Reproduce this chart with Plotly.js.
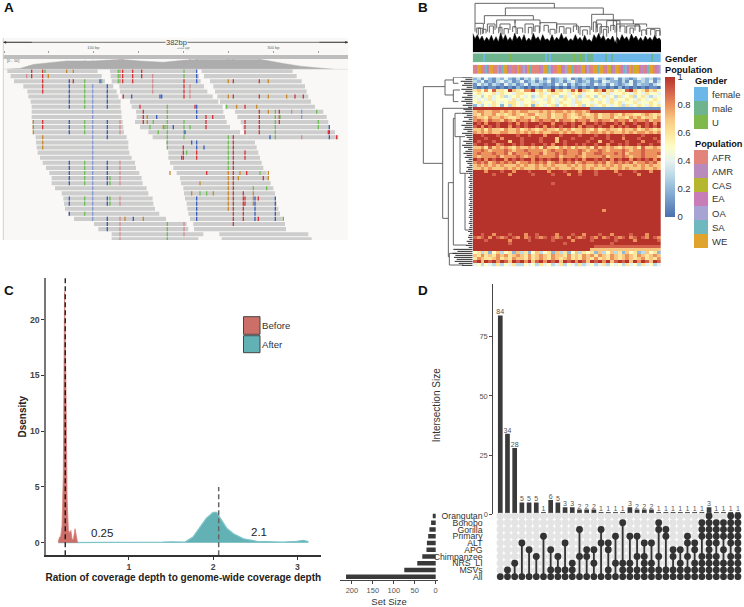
<!DOCTYPE html>
<html><head><meta charset="utf-8">
<script src="https://cdn.plot.ly/plotly-3.0.1.min.js"></script>
<style>html,body{margin:0;padding:0;background:#fff}</style></head>
<body><div id="chart" style="width:744px;height:607px"></div>
<script>
// ---------- Panel A: read pile-up (track units along x, row number along y)
const leftStart =[22,32,42,70,82,85,92,95,95,95,97,97,100,107,108,110,113,120,128,138,148,155,155,165,185,190,192,195,205,222,282,295,335,335];
const leftEnd   =[293,305,315,340,350,355,362,362,364,365,368,370,372,380,385,385,388,395,405,408,418,425,428,440,445,458,460,465,478,498,560,565,610,595];
const midStart  =[330,332,335,358,360,365,390,395,408,410,405,420,445,458,498,503,505,505,510,520,530,540,543,550,552,555,560,562,565,570,580,582];
const midEnd    =[590,597,602,612,622,638,655,668,670,675,680,690,720,740,765,770,775,780,785,790,800,805,812,820,825,825,830,835,840,848,855,858];
const rightRow  =[0,1,2,3,4,5,6,7,8,9,10,11,12,13,32,33];
const rightStart=[605,612,630,640,645,652,660,675,705,712,722,728,732,740,658,665];
const rightEnd  =[878,890,905,915,920,925,933,945,970,980,985,990,1005,1015,925,935];
// each call: position + base, then the rows that carry it
const snpCalls=['208C 2-7 10-12 18-22 25-26 28','128T 0-4 10-11','128G 13-15','100G 10-12','254A 2-7 10-12 18-22 25-26 28','278c 3-29','322C 3-7 10-13 18-22 25-26 29-31','330A 21-22 25-26','360t 0-2 10-12 18-22 25-26 29-33','355A 0-2','368T 0-2','398T 0-2','425T 0-1','502A 7-15 30-33','458t 1-4','552T 2-5','552A 0-1 10-13','570t 3-5','590C 0-2 7-9 14-15 25-29','685G 2 5 20-27','685A 13-19','700T 2 5 13-30','778T 2 5 8-12','805G 2 5 8 20-21','826A 8-13','838T 8-10','905c 8-9','955A 10-11','988C 11-13','735T 7 10-12 16-17 25-26','430T 8-10','442G 9-10','470C 9','618T 9-11','638T 9','550T 15-17','590T 16-17','575C 14','612C 15','760G 24-26','765C 25-29','775T 25 29','826C 25-29','730T 24-29','552t 30-32',
'80t 1','95T 0-1','145G 1','220T 2','220G 0','300C 2','305A 2','135A 0','200G 0','460A 10','490G 11','520C 11','555C 12','585T 7','480C 5','370T 5','395C 5','485C 5','420T 7','495A 11','450A 11','475A 12','570A 11','510G 20','600G 22','620T 20','545T 17','560A 16','720G 20','740T 20','790T 21','780A 20','715G 21','640G 24','600A 24','575G 24','620A 24','760A 23','800A 23','850A 29','400C 29','375G 29','430G 29','910T 5','860G 5','885T 5','680A 7','710G 7','840A 9','875t 8','950A 8','985T 12','1010T 13','905t 13','810C 13','770G 7'];
const snpColors={A:'#6cbf55',C:'#3a5fbf',G:'#c98a2c',T:'#d8333a',c:'#8698d4',t:'#d58b90'};
const covX=[20,60,100,130,165,200,240,280,330,360,420,490,550,600,680,780,850,900,950,1000];
const covY=[0,.08,.48,.58,.66,.83,.83,.83,.93,1,.83,.69,.9,1,1,1,.58,.31,.14,0];
const covSnpPos=[208,254,278,322,330,360,368,408,458,552,570,590,615,685,700,778,805,840,955];
const covSnpBase=['C','C','C','G','G','T','T','G','G','A','T','C','A','T','T','T','G','A','T'];
const covSnpH=[.8,.85,.85,.9,.9,1,1,.8,.7,.9,1,1,.95,1,1,1,.8,.55,.12];
const rulerTicks=[12,145,280,415,550,685,820,955];
const rulerText=['','','100 bp','','200 bp','','300 bp',''];

// ---------- Panel B: methylation heatmap (digit = value x 10, a = 1)
const heatRows=[
'231421324213132424131232412132142312413212432312','324121342312412313241231342123121432213141232413','142313214231241332121424131232142314212341322134',
'101011010102101010110101021010101101020101010110','675859665a76588a6757a675696a76587a675659a7568675','564556465546655456456655465645556464556546546554',
'453564563456545346564536456346535645364563564345','545464555464655455465456546455654546455654654565','564556545665455645565465546655456546564556455654',
'243546525365465265456356545635645654563645654656','aaaaaaaaaaaaaaaaaaaaaaaaaaaaaa111111111111111111','788778878787887778787887878878aaaaaaaaaaaaaaaaaa',
'768778676787678867786778767876786778768776678767','877687787667877687786778766787786778677687867768','898798879879889789889798879889789887988979889788',
'a9a8aa9aa9a8a9aaa9aa8aa9a9aa8aa9a9aa9a8aa9aa9a8a','9a8a9a9aa8a9a9aa9a8a9a9aa9a8a99a9aa8a9a9aa8a9a9a','778687768778678767877687867787686787768778678767',
'878787788778787878778878787787887878778787887878','aa9aaa9aaaa9aa9aaa8aaa9aaaa9aaa9aa9aaa9aaaa9aaaa','aaa9aaa8aaaa9aaaa9aaa7aaa9aaaa9aaa9aaa8aaa9aaa9a','a9aaa9aaa7aa9aaaa9aaa7a9aaaaa9aa7aa9aaa9aaa8aaa9',
'9aa9aa89aa9a9aa9aa9a8aa9aa9a9aa9aa8aa9a9aa9aa9aa','778697878768778786977687868778697878768778697787','889878889878898888789889888987889878889878898888',
'898889889798889889788989888978899888989788898889','878888978889878898888978889878888978889878898887','a9a8a9aa8a9a9aa8a9a9aa8a9a9a8aa9a9a8a9aa8a9a9a8a',
'898978989897889898978989897898898978989897889897','787878787778787787878777878787787878787778787877','778787778787877787787877787787877787787877787787',
'aaa8aaa9aa8aaa9aaaa8aaa9aaa8aaa9aaaa8aaaa9aaa8aa','aaaaa9aaa8aaaaa9aaaa9aaa8aa9aaa9aaaaa9aaaa8aaaaa',
'a','a','aaaaaaaaaaaaaaaaaaaa9aaaaaaaaaaaaaaaaaaaaaaaaaaa','a','a','a','a','a','a','a','a','aaaaaaaaaaaaaaaaaaaaaaaaaaaaaaaaa8aaaaaaaaaaaaaa','a','a','a','a','a','a','a',
'aa9aa8aaa9aaa8aa9aaaa8aaa9aa8aaa9aa8aaaa9aaa8aaa','989a8a989a98a89a989a989a8a989a98a89a989a89a98a98','aaa9aaaaa8aaaa9aaaaa9aaaa8aaaa9aaaaa9aaaa8aaaaa9',
'aaaaaaaaa9aaaaaaaaaaaaa9aaaaaaaaaaa9aaaaaaaaaaaa','aaaaaaaaaaaaaaaaaaaaaaaaaaaaaaa999999999999999999','aaaaaaaaaaaaaaaaaaaaaaaaaaaaaa777777777777777777',
'563625735627362573562736257365627357362756237562','768676878678768678768776867687868768767876876787','687667867687768678768767867687686768767876786768',
'9a7a9a8a97a9a8a79a8a9a7a9a8a97a9a8a79a9a7a8a97a9','453543635463354536453463543634534635453645364534'];
const colorStops=[[0,'#4a6fae'],[.1,'#6c93c4'],[.2,'#91b8d8'],[.3,'#bddae7'],[.4,'#e6f2ee'],[.5,'#fdfdc6'],[.6,'#fde69b'],[.7,'#f8c680'],[.8,'#ec925c'],[.9,'#d3604a'],[1,'#b5332a']];
const genderStrip='mmmmmfmmmmmmmmmmmmUmmmmmmmmmmmmmmmmmfmfmmmmmmmmmmmUmmUmmfmmmffffffmffmfffffffffffffffffffmffff';
const populationStrip='AEWWAMSEWWAAOESWWEMAAEWAMOEWSAAAAEMWWSOEAAWWEMOWWSAEAMWWEOAAWWSWWAEWCEMWWAESOEWACWWEMAESWWAEMO';
const genderKeys=['f','m','U'];
const genderNames=['female','male','U'];
const genderColors=['#6bb8e8','#6eb48f','#7fb94c'];
const popKeys=['A','M','C','E','O','S','W'];
const popNames=['AFR','AMR','CAS','EA','OA','SA','WE'];
const popColors=['#e2847c','#b98bbc','#b5b82e','#c97db8','#a7a3d2','#6fb8c0','#e0a32c'];
// dendrograms: each link = left, right, top height, left-drop, right-drop
const topLeft =[225,316,253,575,225,290,345,590,650,620,300,375,420,470,540,600,680,740,235,262,640,230,248,268,296,312,338,352,385,405,432,450,478,498,520,548,580,592,610,632,660,690,705,725,752,768];
const topRight=[463,610,400,640,250,345,420,700,740,660,330,400,470,530,570,625,720,780,250,285,650,242,258,280,306,325,348,368,396,418,445,465,492,512,535,562,588,604,620,645,675,700,718,738,765,780];
const topTop  =[10,24,47,43,70,60,60,60,72,62,72,72,68,72,80,80,78,85,85,72,62,84,88,78,82,86,80,84,82,78,76,88,80,84,78,90,66,72,88,76,78,84,74,90,88,92];
const topDropL=[70,47,72,90,95,85,85,85,95,85,95,100,95,100,105,105,100,105,105,95,90,100,102,98,100,104,96,102,100,96,94,104,98,102,96,108,96,96,106,94,96,102,92,108,106,110];
const topDropR=[24,43,60,60,85,70,72,72,80,85,90,95,85,90,105,100,95,105,100,90,130,104,100,102,104,100,102,98,104,100,98,102,102,100,100,104,98,100,110,98,100,100,96,104,110,108];
const jagX=[218,225,232,239,246,253,260,267,274,281,288,295,302,309,316,323,330,337,344,351,358,365,372,379,386,393,400,407,414,421,428,435,442,449,456,463,470,477,484,491,498,505,512,519,526,533,540,547,554,561,568,575,582,589,596,603,610,617,624,631,638,645,652,659,666,673,680,687,694,701,708,715,722,729,736,743,750,757,764,771,778,783];
const jagY=[100,116,104,120,108,124,112,122,106,124,110,126,98,120,104,122,112,124,100,118,108,122,104,124,114,122,100,118,110,124,104,120,116,124,104,122,112,120,100,118,110,124,116,122,104,120,112,124,106,122,118,126,104,116,100,118,106,122,114,120,108,128,112,122,104,118,110,124,102,116,108,122,112,124,108,120,112,122,106,118,114,122];
const sideRoot=[70,135,160,160,128,145,160,165,180,195,148];
const sideYTop=[260,240,232,270,325,548,355,340,410,520,760];
const sideYBot=[490,285,250,305,655,770,735,410,520,690,795];
const sideXTop=[135,160,190,180,215,160,165,185,195,205,170];
const sideXBot=[128,160,175,175,145,148,200,180,195,205,190];
// comb of leaves along the heatmap: where each leaf starts, every 6 track units from the top
const combStart=[188,196,182,192,186,200,184,196,190,202,186,194,184,198,188,204,190,196,186,200,192,206,188,198,184,194,190,202,186,196,200,206,190,198,186,192,204,196,190,200,194,206,198,202,208,200,204,198,206,210,204,208,206,210,208,206,210,208,206,210,208,206,210,208,206,210,208,206,210,208,206,210,208,206,210,208,206,204,210,206,204,208,200,204,198,206,160,172,158,166,162,170,164,176,186];

// ---------- Panel C: density curves
const beforeX=[.16,.175,.19,.205,.22,.235,.25,.265,.28,.30,.31,.325,.34,.36,.375,.39];
const beforeY=[.1,.5,.6,1.5,6,22.5,15,4,1.1,.9,1.1,.3,.3,1.25,.6,0];
const afterX=[.16,.5,1,1.3,1.4,1.5,1.6,1.665,1.76,1.84,1.92,2,2.04,2.1,2.16,2.24,2.36,2.52,2.63,2.83,2.99,3.07,3.13];
const afterY=[0,0,0,.02,.05,.08,.04,.05,.5,1.3,2.2,2.72,2.72,2,1.3,.8,.35,.12,.1,.05,.12,.2,.1];
const meanLines=[.243,2.065];

// ---------- Panel D: UpSet plot
const intersectionSizes=[84,34,28,5,5,5,1,6,5,3,3,2,2,2,1,1,1,1,3,2,2,2,1,1,1,1,1,1,1,3,1,1,1,1];
const setNames=['Orangutan','Bonobo','Gorilla','Primary','ALT','APG','Chimpanzee','NRS_LI','MSVs','All'];
const setSizes=[7,11,15,18,21,22,32,44,75,214];
const memberships=['9','89','79','49','59','69','39','589','689','489','789','269','569','579','249','4589','379','1789','3789','3689','46789','4789','12689','2389','5689','5789','34689','45789','1236789','0123456789','12346789','1235789','012346789','0123456789'];

// ---------- helpers
const W=744,H=607,FONT='"Liberation Sans",Arial,sans-serif';
const dx=(a,b)=>[a/W,b/W], dy=(t,b)=>[1-b/H,1-t/H];
const hidden=(o)=>Object.assign({visible:false,fixedrange:true},o);
const ann=(x,y,text,o={})=>Object.assign({xref:'paper',yref:'paper',x:x/W,y:1-y/H,text,showarrow:false,xanchor:'left',yanchor:'middle',font:{family:FONT,size:9.5,color:'#222'}},o);
const rect=(x0,y0,x1,y1,fill,line)=>({type:'rect',xref:'paper',yref:'paper',x0:x0/W,x1:x1/W,y0:1-y0/H,y1:1-y1/H,fillcolor:fill,line:line||{width:0},layer:'below'});
const seg=(x0,y0,x1,y1,color,w)=>({type:'line',xref:'paper',yref:'paper',x0:x0/W,x1:x1/W,y0:1-y0/H,y1:1-y1/H,line:{color,width:w||1}});
const traces=[];

// ---------- A traces
const rRow=[],rBase=[],rLen=[];
leftStart.forEach((s,i)=>{rRow.push(i);rBase.push(s);rLen.push(leftEnd[i]-s);});
midStart.forEach((s,i)=>{rRow.push(i);rBase.push(s);rLen.push(midEnd[i]-s);});
rightStart.forEach((s,i)=>{rRow.push(rightRow[i]);rBase.push(s);rLen.push(rightEnd[i]-s);});
traces.push({type:'bar',orientation:'h',y:rRow,x:rLen,base:rBase,width:.8,marker:{color:'#cdcdcd',line:{width:0}},xaxis:'x',yaxis:'y',hoverinfo:'skip'});
const sRow=[],sPos=[],sCol=[];
snpCalls.forEach(call=>{
  const parts=call.split(' '),pos=parseFloat(parts[0]),base=parts[0].slice(-1);
  parts.slice(1).forEach(run=>{
    const p=run.split('-').map(Number),a=p[0],b=p.length>1?p[1]:p[0];
    for(let r=a;r<=b;r++){sRow.push(r);sPos.push(pos-2);sCol.push(snpColors[base]);}
  });
});
traces.push({type:'bar',orientation:'h',y:sRow,x:sRow.map(()=>4),base:sPos,width:.8,marker:{color:sCol,line:{width:0}},xaxis:'x',yaxis:'y',hoverinfo:'skip'});
traces.push({type:'scatter',mode:'lines',x:covX,y:covY,fill:'tozeroy',fillcolor:'#adadad',line:{color:'#aaa',width:.5},xaxis:'x',yaxis:'y2',hoverinfo:'skip'});
traces.push({type:'bar',x:covSnpPos,y:covSnpH,width:3.6,marker:{color:covSnpBase.map(b=>snpColors[b]),line:{width:0}},xaxis:'x',yaxis:'y2',hoverinfo:'skip'});

// ---------- B traces
const nCols=48;
const heatZ=heatRows.map(r=>{
  const full=r.length===1?r.repeat(nCols):r;
  return Array.from({length:nCols},(_,j)=>{const c=full[Math.min(j,full.length-1)];return c==='a'?1:Number(c)/10;});
});
traces.push({type:'heatmap',z:heatZ,zmin:0,zmax:1,colorscale:colorStops,xaxis:'x3',yaxis:'y3',hoverinfo:'skip',
  colorbar:{x:665/W,xanchor:'left',xpad:0,y:1-77/H,yanchor:'top',ypad:0,len:140/H,lenmode:'fraction',thickness:10,thicknessmode:'pixels',outlinewidth:0,ticks:'',tickvals:[0,.2,.4,.6,.8,1],ticktext:['0','0.2','0.4','0.6','0.8','1'],tickfont:{family:FONT,size:9.5,color:'#333'}}});
// top dendrogram
traces.push({type:'scatter',mode:'lines',x:jagX.concat([783,218]),y:jagY.concat([157,157]),fill:'toself',fillcolor:'#000',line:{color:'#000',width:.5},xaxis:'x4',yaxis:'y4',hoverinfo:'skip'});
const tx=[],ty=[];
topLeft.forEach((l,i)=>{tx.push(l,l,topRight[i],topRight[i],null);ty.push(topDropL[i],topTop[i],topTop[i],topDropR[i],null);});
traces.push({type:'scatter',mode:'lines',x:tx,y:ty,line:{color:'#555',width:.9},xaxis:'x4',yaxis:'y4',hoverinfo:'skip'});
// side dendrogram
const lx=[],ly=[];
sideRoot.forEach((r,i)=>{lx.push(sideXTop[i],r,r,sideXBot[i],null);ly.push(sideYTop[i],sideYTop[i],sideYBot[i],sideYBot[i],null);});
traces.push({type:'scatter',mode:'lines',x:lx,y:ly,line:{color:'#555',width:.9},xaxis:'x5',yaxis:'y5',hoverinfo:'skip'});
const mx=[],my=[];
combStart.forEach((s,i)=>{mx.push(s,218,null);my.push(232+6*i,232+6*i,null);});
traces.push({type:'scatter',mode:'lines',x:mx,y:my,line:{color:'#2a2a2a',width:1},xaxis:'x5',yaxis:'y5',hoverinfo:'skip'});
const stepped=(cols)=>{const n=cols.length,o=[];cols.forEach((c,i)=>{o.push([i/n,c],[(i+1)/n,c]);});return o;};
traces.push({type:'heatmap',z:[Array.from(genderStrip).map(c=>genderKeys.indexOf(c))],zmin:-.5,zmax:2.5,colorscale:stepped(genderColors),showscale:false,xaxis:'x6',yaxis:'y6',hoverinfo:'skip'});
traces.push({type:'heatmap',z:[Array.from(populationStrip).map(c=>popKeys.indexOf(c))],zmin:-.5,zmax:6.5,colorscale:stepped(popColors),showscale:false,xaxis:'x7',yaxis:'y7',hoverinfo:'skip'});

// ---------- C traces
traces.push({type:'scatter',mode:'lines',x:afterX,y:afterY,fill:'tozeroy',fillcolor:'#62b1b5',line:{color:'#7cc4c8',width:1.3},xaxis:'x8',yaxis:'y8',hoverinfo:'skip'});
traces.push({type:'scatter',mode:'lines',x:beforeX,y:beforeY,fill:'tozeroy',fillcolor:'#cc6f69',line:{color:'#d6807a',width:.8},xaxis:'x8',yaxis:'y8',hoverinfo:'skip'});
traces.push({type:'scatter',mode:'lines',x:[meanLines[0],meanLines[0]],y:[-1.13,23.74],line:{color:'#111',width:1.3,dash:'5px 3px'},xaxis:'x8',yaxis:'y8',hoverinfo:'skip'});
traces.push({type:'scatter',mode:'lines',x:[meanLines[1],meanLines[1]],y:[-1.13,5],line:{color:'#666',width:1.5,dash:'5px 3px'},xaxis:'x8',yaxis:'y8',hoverinfo:'skip'});

// ---------- D traces
const colIdx=intersectionSizes.map((_,i)=>i);
traces.push({type:'bar',x:colIdx,y:intersectionSizes,text:intersectionSizes.map(String),textposition:'outside',constraintext:'none',cliponaxis:false,textfont:{family:FONT,size:7,color:'#555'},width:.65,marker:{color:'#3a3a3a',line:{width:0}},xaxis:'x9',yaxis:'y9',hoverinfo:'skip'});
const gx=[],gy=[],fx=[],fy=[],cx=[],cy=[];
colIdx.forEach(i=>{
  setNames.forEach((_,r)=>{gx.push(i);gy.push(r);});
  const m=Array.from(memberships[i]).map(Number);
  m.forEach(r=>{fx.push(i);fy.push(r);});
  cx.push(i,i,null);cy.push(Math.min(...m),Math.max(...m),null);
});
traces.push({type:'scatter',mode:'markers',x:gx,y:gy,marker:{color:'#e4e4e4',size:7.4,line:{width:0}},xaxis:'x10',yaxis:'y10',hoverinfo:'skip'});
traces.push({type:'scatter',mode:'lines',x:cx,y:cy,line:{color:'#333',width:1.8},xaxis:'x10',yaxis:'y10',hoverinfo:'skip'});
traces.push({type:'scatter',mode:'markers',x:fx,y:fy,marker:{color:'#333',size:6.8,line:{width:0}},xaxis:'x10',yaxis:'y10',hoverinfo:'skip'});
traces.push({type:'bar',orientation:'h',x:setSizes,y:setNames.map((_,i)=>i),width:.66,marker:{color:'#3a3a3a',line:{width:0}},xaxis:'x11',yaxis:'y10',hoverinfo:'skip'});

// ---------- chrome
const shapes=[
  rect(3.3,38,348,240,'#f9f8f6'),
  rect(3.3,55,348,59,'#bdbdbd'),
  seg(3.3,38,3.3,240,'#c8c8c8',.8),
  seg(3.3,69.3,348,69.3,'#dcdcdc',.7),
  seg(3.3,42.3,348,42.3,'#333',.7),
  rect(243.5,316.7,260,334.3,'#cc6f69',{color:'#444',width:1}),
  rect(243.5,335.7,260,352.7,'#62b1b5',{color:'#444',width:1})
];
genderColors.forEach((c,i)=>shapes.push(rect(694,87+14*i,708,101+14*i,c)));
popColors.forEach((c,i)=>shapes.push(rect(694,150+14*i,708,164+14*i,c)));
const bold=(size,color)=>({family:FONT,size,color:color||'#111',weight:700});
const annotations=[
  ann(2,8,'A',{font:bold(13.5)}),ann(416,7,'B',{font:bold(13.5)}),ann(2,290,'C',{font:bold(13.5)}),ann(416,290,'D',{font:bold(13.5)}),
  ann(176,42,'382bp',{xanchor:'center',bgcolor:'#f9f8f6',borderpad:0,font:{family:FONT,size:7.5,color:'#444'}}),
  ann(5,60.5,'[0 - 50]',{font:{family:FONT,size:4,color:'#666'}}),
  ann(663,59,'Gender',{font:bold(9.2)}),ann(663,70,'Population',{font:bold(9.2)}),
  ann(693,81,'Gender',{font:bold(9.2)}),ann(693,144,'Population',{font:bold(9.2)}),
  ann(260,325.7,'Before',{font:{family:FONT,size:9.6,color:'#333'}}),ann(260,344.7,'After',{font:{family:FONT,size:9.6,color:'#333'}}),
  ann(102,533,'0.25',{xanchor:'center',font:{family:FONT,size:11.5,color:'#222'}}),ann(259,532,'2.1',{xanchor:'center',font:{family:FONT,size:11.5,color:'#222'}}),
  ann(436.7,405.5,'Intersection Size',{xanchor:'center',textangle:-90,font:{family:FONT,size:10,color:'#333'}})
];
[[3.3,3.3+30],[348,348-30]].forEach(p=>annotations.push({xref:'paper',yref:'paper',x:p[0]/W,y:1-42.3/H,ax:p[1]/W,ay:1-42.3/H,axref:'paper',ayref:'paper',text:'',showarrow:true,arrowhead:2,arrowsize:.8,arrowwidth:.7,arrowcolor:'#333'}));
genderNames.forEach((t,i)=>annotations.push(ann(710,94+14*i,t,{font:{family:FONT,size:9.5,color:'#333'}})));
popNames.forEach((t,i)=>annotations.push(ann(710,157+14*i,t,{font:{family:FONT,size:9.5,color:'#333'}})));

const cTick={family:FONT,size:8.7,color:'#444',weight:700};
const dTick={family:FONT,size:7.5,color:'#555'};
const layout={
  width:W,height:H,margin:{l:0,r:0,t:0,b:0},paper_bgcolor:'#fff',plot_bgcolor:'rgba(0,0,0,0)',showlegend:false,barmode:'overlay',font:{family:FONT},
  shapes,annotations,
  xaxis:{domain:dx(3.33,348),range:[10,1044],anchor:'free',position:1-53/H,side:'top',showgrid:false,zeroline:false,showline:false,ticks:'outside',ticklen:2,tickwidth:.6,tickcolor:'#666',tickmode:'array',tickvals:rulerTicks,ticktext:rulerText,tickfont:{family:FONT,size:4,color:'#666'},fixedrange:true},
  yaxis:hidden({domain:dy(68.5,240),range:[33.14,-.5],anchor:'x'}),
  yaxis2:hidden({domain:dy(59.3,69.2),range:[0,1],anchor:'x'}),
  xaxis3:hidden({domain:dx(472.7,661),range:[-.5,nCols-.5],anchor:'y3'}),
  yaxis3:hidden({domain:dy(77.3,266.7),range:[heatRows.length-.5,-.5],anchor:'x3'}),
  xaxis4:hidden({domain:dx(472.7,661),range:[218,783],anchor:'y4'}),
  yaxis4:hidden({domain:dy(0,52.3),range:[157,0],anchor:'x4'}),
  xaxis5:hidden({domain:dx(420,472.7),range:[60,218],anchor:'y5'}),
  yaxis5:hidden({domain:dy(77.3,266.7),range:[800,232],anchor:'x5'}),
  xaxis6:hidden({domain:dx(472.7,661),range:[-.5,genderStrip.length-.5],anchor:'y6'}),
  yaxis6:hidden({domain:dy(53.3,62.3),range:[-.5,.5],anchor:'x6'}),
  xaxis7:hidden({domain:dx(472.7,661),range:[-.5,populationStrip.length-.5],anchor:'y7'}),
  yaxis7:hidden({domain:dy(64.7,74),range:[-.5,.5],anchor:'x7'}),
  xaxis8:{domain:dx(45.7,321),range:[.011,3.28],anchor:'y8',showgrid:false,zeroline:false,showline:true,linecolor:'#333',linewidth:1.3,ticks:'outside',ticklen:3,tickcolor:'#333',tickvals:[1,2,3],tickfont:cTick,fixedrange:true,
    title:{text:'Ration of coverage depth to genome-wide coverage depth',font:{family:FONT,size:10,color:'#222',weight:700},standoff:3}},
  yaxis8:{domain:dy(278,555.3),range:[-1.13,23.74],anchor:'x8',showgrid:false,zeroline:false,showline:true,linecolor:'#777',linewidth:1.3,ticks:'outside',ticklen:3,tickcolor:'#333',tickvals:[0,5,10,15,20],tickfont:cTick,fixedrange:true,
    title:{text:'Dsensity',font:{family:FONT,size:10,color:'#222',weight:700},standoff:1}},
  xaxis9:hidden({domain:dx(493.3,744),range:[-.97,33.85],anchor:'y9'}),
  yaxis9:{domain:dy(284,514.3),range:[0,97.25],anchor:'x9',showgrid:false,zeroline:false,showline:true,linecolor:'#444',linewidth:1,ticks:'outside',ticklen:3,tickcolor:'#444',tickvals:[0,25,50,75],tickfont:dTick,fixedrange:true},
  xaxis10:hidden({domain:dx(493.3,744),range:[-.97,33.85],anchor:'y10'}),
  yaxis10:{domain:dy(512.63,580.07),range:[9.5,-.5],anchor:'x10',showgrid:false,zeroline:false,showline:false,ticks:'outside',ticklen:8,tickcolor:'rgba(0,0,0,0)',tickmode:'array',tickvals:setNames.map((_,i)=>i),ticktext:setNames,tickfont:{family:FONT,size:8.7,color:'#333'},fixedrange:true},
  xaxis11:{domain:dx(340,438),range:[228.4,-5.5],anchor:'y10',showgrid:false,zeroline:false,showline:true,linecolor:'#444',linewidth:1,ticks:'outside',ticklen:3,tickcolor:'#444',tickvals:[0,50,100,150,200],tickfont:dTick,fixedrange:true,
    title:{text:'Set Size',font:{family:FONT,size:9.5,color:'#333'},standoff:4}}
};
Plotly.newPlot('chart',traces,layout,{staticPlot:true,displayModeBar:false});
</script></body></html>
